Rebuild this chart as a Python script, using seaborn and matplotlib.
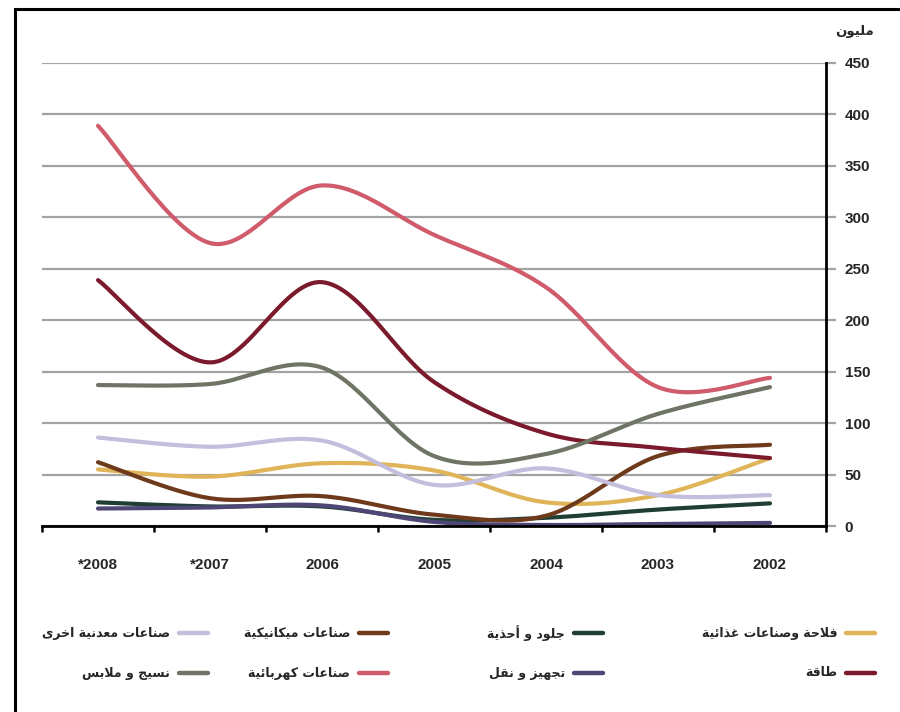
import numpy as np
import pandas as pd
import matplotlib
matplotlib.use("Agg")
import matplotlib.pyplot as plt
import seaborn as sns
from matplotlib.lines import Line2D
from matplotlib.patches import Rectangle

# Years, right-to-left on the axis (2002 sits at the right edge)
years = ["2002", "2003", "2004", "2005", "2006", "*2007", "*2008"]

# Values in millions, one list per sector, in the same order as years
energy = [66, 76, 90, 140, 237, 159, 239]
agri_food = [66, 30, 23, 54, 61, 48, 55]
leather = [22, 16, 8, 6, 19, 19, 23]
transport = [3, 2, 1, 4, 20, 18, 17]
mechanical = [79, 68, 10, 11, 29, 27, 62]
electrical = [144, 135, 232, 283, 331, 275, 389]
metal_other = [30, 30, 56, 40, 83, 77, 86]
textile = [135, 109, 70, 68, 154, 138, 137]

names = [
    "فلاحة وصناعات غذائية", "جلود و أحذية", "صناعات ميكانيكية", "صناعات معدنية اخرى",
    "طاقة", "تجهيز و نقل", "صناعات كهربائية", "نسيج و ملابس",
]
series = [agri_food, leather, mechanical, metal_other, energy, transport, electrical, textile]
colors = ["#E0B458", "#1F3F35", "#6E3A1B", "#C4BEDD",
          "#7B1A2C", "#4E4675", "#CF5B6B", "#6F7564"]
unit_label = "مليون"

# ---- Arabic shaping (presentation forms + visual order) ----
FORMS = {
    "ا": (0xFE8D, 0xFE8E, None, None), "أ": (0xFE83, 0xFE84, None, None),
    "ب": (0xFE8F, 0xFE90, 0xFE91, 0xFE92), "ة": (0xFE93, 0xFE94, None, None),
    "ت": (0xFE95, 0xFE96, 0xFE97, 0xFE98), "ج": (0xFE9D, 0xFE9E, 0xFE9F, 0xFEA0),
    "ح": (0xFEA1, 0xFEA2, 0xFEA3, 0xFEA4), "خ": (0xFEA5, 0xFEA6, 0xFEA7, 0xFEA8),
    "د": (0xFEA9, 0xFEAA, None, None), "ذ": (0xFEAB, 0xFEAC, None, None),
    "ر": (0xFEAD, 0xFEAE, None, None), "ز": (0xFEAF, 0xFEB0, None, None),
    "س": (0xFEB1, 0xFEB2, 0xFEB3, 0xFEB4), "ص": (0xFEB9, 0xFEBA, 0xFEBB, 0xFEBC),
    "ط": (0xFEC1, 0xFEC2, 0xFEC3, 0xFEC4), "ع": (0xFEC9, 0xFECA, 0xFECB, 0xFECC),
    "غ": (0xFECD, 0xFECE, 0xFECF, 0xFED0), "ف": (0xFED1, 0xFED2, 0xFED3, 0xFED4),
    "ق": (0xFED5, 0xFED6, 0xFED7, 0xFED8), "ك": (0xFED9, 0xFEDA, 0xFEDB, 0xFEDC),
    "ل": (0xFEDD, 0xFEDE, 0xFEDF, 0xFEE0), "م": (0xFEE1, 0xFEE2, 0xFEE3, 0xFEE4),
    "ن": (0xFEE5, 0xFEE6, 0xFEE7, 0xFEE8), "ه": (0xFEE9, 0xFEEA, 0xFEEB, 0xFEEC),
    "و": (0xFEED, 0xFEEE, None, None), "ى": (0xFEEF, 0xFEF0, None, None),
    "ي": (0xFEF1, 0xFEF2, 0xFEF3, 0xFEF4), "ئ": (0xFE89, 0xFE8A, 0xFE8B, 0xFE8C),
}


def joins_forward(ch):
    return ch in FORMS and FORMS[ch][2] is not None


def shape(text):
    out = []
    i = 0
    n = len(text)
    while i < n:
        ch = text[i]
        prev_joins = i > 0 and joins_forward(text[i - 1])
        if ch == "ل" and i + 1 < n and text[i + 1] == "ا":
            out.append(chr(0xFEFC if prev_joins else 0xFEFB))
            i += 2
            continue
        if ch not in FORMS:
            out.append(ch)
            i += 1
            continue
        next_joins = joins_forward(ch) and i + 1 < n and text[i + 1] in FORMS
        iso, fin, ini, med = FORMS[ch]
        if prev_joins and next_joins:
            g = med
        elif prev_joins:
            g = fin
        elif next_joins:
            g = ini
        else:
            g = iso
        out.append(chr(g))
        i += 1
    return "".join(reversed(out))


def catmull_rom(x, y, n=30):
    pts = np.column_stack([x, y]).astype(float)
    p = np.vstack([pts[0], pts, pts[-1]])
    segs = []
    t = np.linspace(0, 1, n, endpoint=False)[:, None]
    for k in range(1, len(p) - 2):
        p0, p1, p2, p3 = p[k - 1], p[k], p[k + 1], p[k + 2]
        segs.append(0.5 * (2 * p1 + (-p0 + p2) * t
                           + (2 * p0 - 5 * p1 + 4 * p2 - p3) * t ** 2
                           + (-p0 + 3 * p1 - 3 * p2 + p3) * t ** 3))
    segs.append(p[-2][None, :])
    return np.vstack(segs)


sns.set_style("white")
plt.rcParams["font.family"] = ["Liberation Sans", "DejaVu Sans"]

W, H = 900, 712
fig = plt.figure(figsize=(W / 100, H / 100), dpi=100)
ax = fig.add_axes([42 / W, 1 - 526 / H, (826 - 42) / W, (526 - 63) / H])

xpos = np.arange(len(years))
frames = []
for name, vals in zip(names, series):
    curve = catmull_rom(xpos, vals)
    frames.append(pd.DataFrame({"x": curve[:, 0], "y": curve[:, 1], "sector": name}))
long_df = pd.concat(frames, ignore_index=True)

sns.lineplot(data=long_df, x="x", y="y", hue="sector", hue_order=names,
             palette=dict(zip(names, colors)), sort=False, estimator=None,
             linewidth=3.0, legend=False, ax=ax)

ax.set_xlim(len(years) - 0.5, -0.5)
ax.set_ylim(0, 450)
ax.set_xlabel("")
ax.set_ylabel("")

# y axis on the right
ax.set_yticks(np.arange(0, 451, 50))
ax.yaxis.tick_right()
ax.tick_params(axis="y", which="major", left=False, right=True, labelleft=False,
               labelright=True, direction="out", length=7.5, width=1.6,
               color="#a3a3a3", pad=6, labelsize=11)
ax.yaxis.get_major_ticks()[0].tick2line.set_color("black")
for lab in ax.get_yticklabels():
    lab.set_fontweight("bold")

ax.grid(axis="y", color="#a3a3a3", linewidth=1.6)
ax.grid(axis="x", visible=False)
ax.set_axisbelow(True)

# category labels centred, boundary ticks between them
ax.set_xticks(xpos)
ax.set_xticklabels(years, fontsize=11, fontweight="bold")
ax.set_xticks(np.arange(-0.5, len(years), 1), minor=True)
ax.tick_params(axis="x", which="major", length=0, pad=23)
ax.tick_params(axis="x", which="minor", direction="out", length=4.5, width=1.8,
               color="black", bottom=True)

for side in ["left", "top"]:
    ax.spines[side].set_visible(False)
for side in ["right", "bottom"]:
    ax.spines[side].set_visible(True)
    ax.spines[side].set_color("black")
    ax.spines[side].set_linewidth(2)

fig.text(855 / W, 1 - 31 / H, shape(unit_label), ha="center", va="center",
         fontsize=9.5, fontweight="bold", family=["DejaVu Sans"])

# legend, drawn right to left in two rows
rows = [633, 673]
swatch_right = [875, 603, 388, 208]
for idx, (name, col) in enumerate(zip(names, colors)):
    r, c = divmod(idx, 4)
    yy = 1 - rows[r] / H
    x1 = swatch_right[c]
    x0 = x1 - 29
    fig.add_artist(Line2D([x0 / W, x1 / W], [yy, yy], color=col, lw=3.2,
                          solid_capstyle="round", transform=fig.transFigure))
    fig.text((x0 - 9) / W, yy, shape(name), ha="right", va="center",
             fontsize=9, fontweight="bold", family=["DejaVu Sans"])

# outer frame
fig.add_artist(Rectangle((15 / W, -0.1), 1.2, (1 - 9 / H) + 0.1, fill=False,
                         edgecolor="black", linewidth=2.2,
                         transform=fig.transFigure))

fig.savefig("out.png", dpi=100)
